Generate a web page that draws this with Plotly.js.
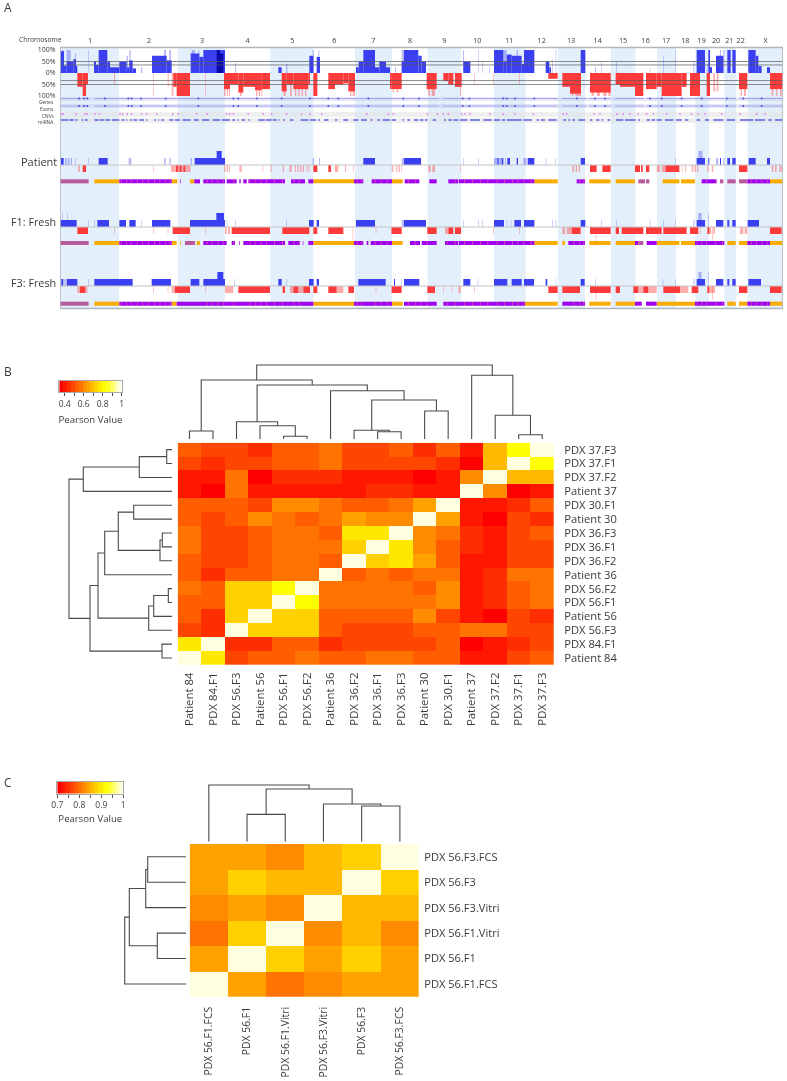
<!DOCTYPE html>
<html>
<head>
<meta charset="utf-8">
<script src="https://cdn.plot.ly/plotly-3.0.1.min.js"></script>
<style>html,body{margin:0;padding:0;background:#fff}#chart{filter:blur(0.3px)}</style>
</head>
<body>
<div id="chart" style="width:787px;height:1081px"></div>
<script>
// ---------- Panel A: genome positions (arbitrary units along the concatenated genome) ----------
const chromLabels = ['1','2','3','4','5','6','7','8','9','10','11','12','13','14','15','16','17','18','19','20','21','22','X'];
const chromCentres = [270,447,606,743,877,1003,1120,1230,1333,1432,1528,1625,1713,1793,1869,1937,1998,2056,2105,2148,2188,2222,2297];
const chromEdges = [180,357,533,675,811,940,1065,1176,1283,1383,1482,1577,1674,1755,1833,1906,1971,2028,2086,2127,2173,2208,2243,2349];
const R = a => a.map(([s, e, l]) => [s + 1170, e + 1170, l]);

const cohortGain = [[181,192,95],[192,200,32],[200,220,50],[220,228,60],[228,232,30],[282,288,50],[288,296,35],[296,322,100],[322,330,50],[330,358,25],[358,380,50],[380,388,25],[388,398,55],[398,408,20],[456,500,75],[500,515,55],[572,598,85],[598,610,70],[610,648,100],[648,675,100],[835,845,25],[928,940,75],[950,960,70],[1068,1076,25],[1076,1090,50],[1090,1125,100],[1125,1138,25],[1138,1158,50],[1158,1170,25]]
  .concat(R([[35,42,50],[42,85,100],[85,95,75],[95,108,50],[220,241,50],[312,340,100],[340,350,50],[350,365,80],[365,395,75],[395,402,40],[402,433,100],[467,478,50],[478,483,25],[572,586,100],[920,945,100],[955,960,100],[958,966,25],[978,1000,75],[1012,1022,100],[1027,1037,100],[1075,1097,100],[1097,1105,75],[1105,1115,30],[1131,1140,25]]));
const cohortGainFaint = [[186,190,100],[200,212,100],[225,228,85],[265,267,100],[380,384,75],[388,392,100],[423,427,25],[492,498,100],[508,513,100],[575,585,100],[595,598,100],[705,708,45],[858,862,40],[938,942,100],[955,958,100]]
  .concat(R([[15,18,25],[35,42,100],[219,222,100],[265,267,100],[277,279,50],[298,300,25],[340,350,100],[380,384,100],[487,489,60],[497,499,100],[615,618,25],[633,635,50],[678,680,50],[779,781,20],[820,822,75],[855,857,100],[910,913,50],[950,953,40],[990,993,100],[1000,1003,100]]));
const cohortGainDark = [[650,660,100],[660,670,85]];
const cohortLoss = [[232,248,60],[248,258,100],[258,264,50],[520,530,60],[530,570,100],[672,690,70],[690,715,50],[715,730,85],[730,765,60],[765,785,75],[785,810,70],[845,860,80],[860,880,50],[880,925,70],[925,930,50],[940,952,100],[985,1005,70],[1005,1030,50],[1030,1045,45],[1045,1065,80],[1170,1175,70]]
  .concat(R([[5,35,70],[110,140,70],[160,175,35],[175,190,50],[195,215,60],[475,503,25],[517,540,60],[540,573,90],[600,662,85],[677,690,50],[690,735,60],[735,760,100],[768,800,70],[800,815,60],[815,875,100],[875,890,60],[900,930,100],[950,960,100],[1047,1072,70],[1140,1178,70]]));
const cohortLossFaint = [[342,345,50],[460,462,100],[503,506,60],[515,520,100],[615,617,100],[672,676,100],[680,684,100],[687,690,100],[720,725,100],[768,772,100],[776,780,100],[784,787,100],[850,857,100],[870,875,100],[885,889,100],[895,899,100],[905,909,100],[915,919,100],[1050,1054,100],[1058,1065,100],[1173,1176,50]]
  .concat(R([[8,12,85],[20,25,85],[115,120,100],[125,135,100],[210,213,100],[253,255,50],[310,312,50],[388,390,50],[545,550,100],[556,573,100],[605,612,100],[620,630,100],[640,650,100],[655,662,100],[970,975,80],[980,985,80],[1052,1056,100],[1062,1068,100],[1145,1150,100],[1158,1162,100],[1170,1175,100]]));
const cohortLevels = [50,35,-33,-50];
const cohortTickVals = [100,50,0,-50,-100];
const cohortTickText = ['100%','50%','0%','50%','100%'];

const featureSpans = [[180,268],[282,1317],[1328,1673],[1686,1760],[1767,1833],[1845,1932],[1938,2173],[2178,2208],[2217,2348]];
const featureMarks = [237,252,262,315,385,395,423,497,595,700,715,770,845,930,985,1015,1105,1210,1257,1388,1408,1510,1520,1545,1603,1730,1785,1815,1950,1985,2045,2105,2180,2230,2285];
const cnvMarks = [185,190,228,255,262,285,298,360,368,382,395,425,440,470,518,535,590,622,680,690,700,745,790,815,860,905,930,965,1100,1165,1180,1282,1312,1330,1345,1385,1395,1410,1470,1510,1545,1600,1690,1700,1782,1800,1850,1870,1890,1915,1940,1960,2000,2040,2075,2095,2115,2165,2220,2270,2295];
const mirnaSpans = [[183,205],[208,222],[226,232],[245,250],[255,263],[283,296],[299,312],[315,330],[335,358],[365,373],[378,382],[390,396],[400,412],[418,432],[438,442],[463,468],[475,478],[484,492],[508,520],[525,540],[548,572],[582,596],[606,628],[638,660],[665,690],[697,705],[712,716],[725,735],[745,749],[775,795],[798,815],[818,830],[835,838],[850,855],[870,880],[902,925],[930,948],[955,960],[972,985],[1005,1012],[1030,1045],[1060,1075],[1083,1100],[1112,1117],[1133,1140],[1148,1170]]
  .concat(R([[5,18],[38,42],[52,60],[72,85],[90,100],[105,112],[128,138],[162,168],[175,185],[190,205],[210,232],[240,270],[280,305],[312,330],[335,345],[350,395],[400,425],[440,447],[453,465],[475,500],[520,528],[535,540],[547,555],[565,585],[600,607],[618,628],[635,640],[653,660],[678,700],[705,737],[745,750],[770,780],[785,795],[800,815],[825,850],[858,875],[885,895],[920,930],[945,957],[970,1000],[1010,1035],[1050,1090],[1095,1125],[1135,1145],[1155,1178]]));

// Patient
const patientGain = [[183,191],[296,323],[584,675],[650,665,2],[1090,1125]]
  .concat(R([[42,93],[322,326],[335,340],[352,360],[380,384],[413,433],[572,585],[920,945],[955,958],[990,993],[1012,1020],[1027,1037],[1076,1097],[1131,1140]]));
const patientGainFaint = [[195,200],[203,208],[212,216],[226,228],[265,267],[386,394],[492,497],[508,512],[572,576],[938,942],[957,960]]
  .concat(R([[35,42],[220,222],[265,267],[312,322],[326,335],[345,348],[400,410],[467,469],[495,497],[855,857],[925,938,2],[978,985],[1000,1003]]));
const patientLoss = [[248,258],[528,534],[538,545],[550,556],[940,952],[985,993]]
  .concat(R([[600,620],[637,662],[735,750],[753,758],[768,778],[826,868],[1047,1072]]));
const patientLossFaint = [[235,240],[460,462],[513,528],[534,538],[545,550],[556,572],[672,676],[680,684],[687,690],[718,725],[788,790],[812,815],[848,852],[868,875],[885,888],[892,896],[900,904],[908,912],[918,920],[925,928],[1005,1015],[1035,1038],[1060,1062],[1175,1180],[1188,1192],[1196,1200]]
  .concat(R([[33,35],[115,122],[127,135],[211,213],[547,552],[557,561],[566,570],[800,810],[815,825],[875,877],[885,888],[905,910],[914,918],[921,925],[952,956],[965,970],[1145,1150],[1155,1160],[1168,1175]]));
const patientLohOrange = [[283,358],[515,532],[570,583],[940,1062],[1176,1208]]
  .concat(R([[433,503],[598,662],[677,735],[818,868],[873,915],[1140,1178]]));
const patientLohPurple = [[358,515],[540,542],[583,600],[610,675],[680,710],[718,722],[730,740],[745,855],[873,915],[925,940],[1062,1090],[1115,1176]]
  .concat(R([[44,88],[118,140],[175,205],[207,433],[560,585],[935,980],[1072,1140]]));
const patientLohMixed = [[180,266]]
  .concat(R([[745,765],[768,778],[990,1000],[1012,1037],[1047,1072]]));

// F1: Fresh
const f1Gain = [[181,230],[292,327],[358,378],[388,407],[456,511],[570,675],[649,672,2],[927,941],[950,957],[1068,1125]]
  .concat(R([[42,108],[312,342],[373,393],[402,433],[572,586],[920,945],[978,1000],[1012,1018],[1027,1037],[1073,1107]]));
const f1GainFaint = [[186,188,2],[201,203,2],[265,267],[282,284],[423,425],[680,682],[706,708],[858,860]]
  .concat(R([[35,42],[220,222],[265,267],[277,279],[350,352],[362,364],[487,489],[497,499],[633,635],[678,680],[779,781],[820,822],[855,857],[910,913],[925,935,2],[955,957,2]]));
const f1Loss = [[232,264],[518,570],[695,810],[847,928],[940,952],[985,1030],[1175,1200]]
  .concat(R([[5,35],[112,140],[175,190],[195,213],[545,572],[600,662],[677,687],[695,760],[768,815],[820,890],[900,925],[952,958],[1140,1175]]));
const f1LossFaint = [[342,344],[460,462],[503,505],[615,617],[675,680],[684,690],[1058,1060,2],[1127,1129]]
  .concat(R([[165,175],[310,312],[388,390],[517,525],[530,545],[617,619,2],[930,932],[958,964],[970,975],[967,969,2],[1050,1060],[1064,1072]]));
const f1LohOrange = [[283,358],[515,530],[540,542],[590,600],[940,1062],[1176,1208]]
  .concat(R([[433,503],[517,525],[598,662],[677,735],[800,868],[873,915],[1012,1037],[1047,1072],[1140,1178]]));
const f1LohPurple = [[358,515],[610,680],[695,705],[718,720],[730,855],[865,900],[908,910],[925,940],[1062,1090],[1100,1105],[1112,1176]]
  .concat(R([[60,90],[95,140],[165,205],[207,433],[535,585],[735,745],[770,800],[915,1003],[1072,1140]]));
const f1LohMixed = [[180,266],[555,585]].concat(R([[745,760]]));

// F3: Fresh
const f3Gain = [[184,190],[200,232],[283,398],[455,513],[572,598],[610,675],[652,670,2],[835,845],[927,941],[950,957],[1075,1157]]
  .concat(R([[12,15],[42,88],[220,241],[312,352],[365,395],[402,432],[467,472],[572,584],[920,945],[978,1000],[1012,1018],[1027,1037],[1075,1113]]));
const f3GainFaint = [[193,197],[265,267],[703,705],[858,860]]
  .concat(R([[33,35],[263,265],[497,499],[615,617],[818,820],[855,857],[910,913],[925,935,2],[955,957,2]]));
const f3Loss = [[240,256],[525,570],[715,810],[848,855],[880,895],[910,930],[940,952],[985,1010],[1045,1062],[1175,1200]]
  .concat(R([[20,35],[112,135],[475,503],[517,570],[600,662],[677,690],[730,745],[760,775],[820,870],[905,925],[952,958],[1047,1072],[1140,1175]]));
const f3LossFaint = [[232,240],[256,262],[460,462],[503,505],[515,525],[615,617],[675,700],[870,880],[895,910],[1010,1030],[1127,1129]]
  .concat(R([[5,7],[160,162],[185,187],[205,212],[253,255],[617,619,2],[745,760],[775,800],[870,895],[958,975],[967,969,2]]));
const f3LohOrange = [[283,358],[515,530],[940,1062],[1176,1208]]
  .concat(R([[405,503],[598,662],[677,735],[800,915],[1012,1037],[1047,1072],[1140,1178]]));
const f3LohPurple = [[358,515],[530,940],[1062,1176]]
  .concat(R([[42,140],[160,405],[517,585],[735,755],[768,800],[915,1003],[1072,1140]]));
const f3LohMixed = [[180,266]];
// short orange runs seen inside the purple stretches of the allele track
const lohFlecks = [186,196,208,222,236,250,362,378,392,410,426,444,462,478,496,508,620,634,652,668,700,748,764,782,798,822,846,880,896,1070,1084,1124,1142,1160,1224,1244,1262,1280,1340,1364,1392,1416,1440,1462,1490,1512,1536,1552,1570,1592,1720,1738,1750,2090,2104,2118,2146,2166,2252,2268,2284,2300];

// ---------- Panel B ----------
const rowsB = ['PDX 37.F3','PDX 37.F1','PDX 37.F2','Patient 37','PDX 30.F1','Patient 30','PDX 36.F3','PDX 36.F1','PDX 36.F2','Patient 36','PDX 56.F2','PDX 56.F1','Patient 56','PDX 56.F3','PDX 84.F1','Patient 84'];
const colsB = ['Patient 84','PDX 84.F1','PDX 56.F3','Patient 56','PDX 56.F1','PDX 56.F2','Patient 36','PDX 36.F2','PDX 36.F1','PDX 36.F3','Patient 30','PDX 30.F1','Patient 37','PDX 37.F2','PDX 37.F1','PDX 37.F3'];
const pearsonB = [
 [.53,.49,.49,.45,.53,.53,.57,.49,.49,.53,.45,.53,.41,.69,.82,1],
 [.49,.45,.49,.49,.53,.53,.57,.49,.49,.49,.49,.45,.36,.69,1,.82],
 [.41,.41,.57,.36,.45,.45,.45,.41,.41,.41,.36,.41,.61,1,.69,.69],
 [.41,.36,.57,.41,.41,.41,.41,.41,.45,.45,.41,.41,1,.61,.36,.41],
 [.53,.53,.53,.49,.61,.61,.57,.53,.53,.57,.65,1,.41,.41,.45,.53],
 [.53,.49,.53,.61,.57,.53,.57,.65,.61,.61,1,.65,.41,.38,.49,.45],
 [.57,.49,.49,.53,.57,.57,.53,.77,.77,1,.61,.57,.45,.41,.49,.53],
 [.57,.49,.49,.53,.57,.57,.57,.73,1,.77,.61,.53,.45,.41,.49,.49],
 [.53,.49,.49,.53,.57,.57,.53,1,.73,.77,.65,.53,.41,.41,.49,.49],
 [.53,.45,.53,.53,.57,.57,1,.53,.57,.53,.57,.57,.41,.45,.57,.57],
 [.57,.53,.73,.73,.82,1,.57,.57,.57,.57,.53,.61,.41,.45,.53,.57],
 [.53,.53,.73,.73,1,.82,.57,.57,.57,.57,.57,.61,.41,.45,.53,.57],
 [.53,.45,.73,1,.73,.73,.53,.53,.53,.53,.61,.49,.41,.36,.49,.45],
 [.49,.45,1,.73,.73,.73,.53,.49,.49,.49,.53,.53,.57,.57,.49,.49],
 [.77,1,.45,.45,.53,.53,.45,.49,.49,.49,.49,.53,.36,.41,.45,.49],
 [1,.77,.49,.53,.53,.57,.53,.53,.57,.57,.53,.53,.41,.41,.49,.53]
];
// dendrograms: leaf = index, node = [height, childA, childB]
const treeTopB = [74,
  [59,[8,0,1],[54,[17.3,2,[13.3,3,[2.7,4,5]]],[48.3,6,[39,[8.7,7,[7.3,8,9]],[28,10,11]]]]],
  [63.7,12,[23.7,13,[4.3,14,15]]]];
const treeLeftB = [103,
  [88.7,[32.7,[5.3,0,1],2],3],
  [82,[74,[67.3,[53.7,[38.3,4,5],[12,[9.7,6,7],8]],9],[23.3,[18.3,[3.7,10,11],12],13]],[10,14,15]]];
const keyB = [.364,.405,.446,.487,.528,.569,.610,.651,.692,.733,.774,.815,.856,.897,.938,.979];

// ---------- Panel C ----------
const rowsC = ['PDX 56.F3.FCS','PDX 56.F3','PDX 56.F3.Vitri','PDX 56.F1.Vitri','PDX 56.F1','PDX 56.F1.FCS'];
const colsC = ['PDX 56.F1.FCS','PDX 56.F1','PDX 56.F1.Vitri','PDX 56.F3.Vitri','PDX 56.F3','PDX 56.F3.FCS'];
const pearsonC = [
 [.84,.84,.82,.86,.88,1],
 [.84,.88,.86,.86,1,.88],
 [.82,.84,.82,1,.86,.86],
 [.80,.88,1,.82,.86,.82],
 [.84,1,.88,.84,.88,.84],
 [1,.84,.80,.82,.84,.84]
];
const treeTopC = [56.7,0,[52.7,[27.3,1,2],[37.7,3,[35.7,4,5]]]];
const treeLeftC = [61.3,[56.7,[40.3,[38.3,0,1],2],[28.7,3,4]],5];
const keyC = [.709,.728,.747,.766,.784,.803,.822,.841,.859,.878,.897,.916,.934,.953,.972,.991];

const heatColors = ['#FF0000','#FF1700','#FF2E00','#FF4600','#FF5D00','#FF7400','#FF8B00','#FFA200','#FFB900','#FFD100','#FFE800','#FFFF00','#FFFF20','#FFFF60','#FFFF9F','#FFFFDF'];

// ---------- helpers ----------
const W = 787, H = 1081;
const dx = (a, b) => [a / W, b / W];
const dy = (top, bot) => [1 - bot / H, 1 - top / H];
const stepScale = heatColors.flatMap((c, i) => [[i / 16, c], [(i + 1) / 16, c]]);
const FONT = 'Open Sans, Liberation Sans, sans-serif';
const TXT = '#3a3a3a';
const traces = [];

function bars(segs, yaxis, color, o) {
  o = o || {};
  const sign = o.sign || 1;
  traces.push({type: 'bar', xaxis: 'x', yaxis: yaxis, hoverinfo: 'skip', showlegend: false,
    x: segs.map(s => (s[0] + s[1]) / 2), width: segs.map(s => s[1] - s[0]),
    y: segs.map(s => o.h !== undefined ? o.h : sign * (s[2] === undefined ? 1 : s[2])),
    base: o.base || 0, marker: {color: color, line: {width: 0}}});
}
function dendro(tree, orient, xa, ya) {
  const xs = [], ys = [];
  function walk(n) {
    if (typeof n === 'number') return {p: n, h: 0};
    const a = walk(n[1]), b = walk(n[2]);
    const poly = [[a.p, a.h], [a.p, n[0]], [b.p, n[0]], [b.p, b.h]];
    poly.forEach(q => { if (orient === 'top') { xs.push(q[0]); ys.push(q[1]); } else { xs.push(q[1]); ys.push(q[0]); } });
    xs.push(null); ys.push(null);
    return {p: (a.p + b.p) / 2, h: n[0]};
  }
  walk(tree);
  traces.push({type: 'scatter', mode: 'lines', x: xs, y: ys, xaxis: xa, yaxis: ya, hoverinfo: 'skip', showlegend: false,
    line: {color: '#4a4a4a', width: 1.1}});
}
function heat(xs, ys, z, zmin, zmax, xa, ya) {
  traces.push({type: 'heatmap', x: xs, y: ys, z: z, zmin: zmin, zmax: zmax, colorscale: stepScale, showscale: false, xaxis: xa, yaxis: ya, hoverinfo: 'skip'});
}

// ---------- Panel A traces ----------
const BLUE = '#3B3FF2', BLUEF = 'rgba(70,70,240,0.38)', RED = '#FF3A3A', REDF = 'rgba(255,60,60,0.42)';
bars(cohortLossFaint, 'y', REDF, {sign: -1});
bars(cohortLoss, 'y', RED, {sign: -1});
bars(cohortGainFaint, 'y', BLUEF);
bars(cohortGain, 'y', BLUE);
bars(cohortGainDark, 'y', '#0A0AA8');
traces.push({type: 'scatter', mode: 'lines', xaxis: 'x', yaxis: 'y', hoverinfo: 'skip', showlegend: false,
  x: cohortLevels.flatMap(() => [180, 2349, null]), y: cohortLevels.flatMap(v => [v, v, null]),
  line: {color: 'rgba(90,90,90,0.7)', width: 1}});

const rowGenes = 28, rowExons = 20.5, rowCnv = 12.5, rowMirna = 6.5;
[rowGenes, rowExons].forEach(r => {
  traces.push({type: 'scatter', mode: 'lines', xaxis: 'x', yaxis: 'y2', hoverinfo: 'skip', showlegend: false,
    x: featureSpans.flatMap(s => [s[0], s[1], null]), y: featureSpans.flatMap(() => [r, r, null]),
    line: {color: '#A8A8F2', width: 1}});
  traces.push({type: 'scatter', mode: 'markers', xaxis: 'x', yaxis: 'y2', hoverinfo: 'skip', showlegend: false,
    x: featureMarks, y: featureMarks.map(() => r),
    marker: {symbol: 'line-ns', size: 1.6, line: {color: '#5555e0', width: 1.6}}});
});
traces.push({type: 'scatter', mode: 'markers', xaxis: 'x', yaxis: 'y2', hoverinfo: 'skip', showlegend: false,
  x: cnvMarks, y: cnvMarks.map(() => rowCnv),
  marker: {symbol: 'line-ns', size: 1.6, line: {color: 'rgba(225,110,225,0.75)', width: 1.4}}});
traces.push({type: 'bar', xaxis: 'x', yaxis: 'y2', hoverinfo: 'skip', showlegend: false,
  x: mirnaSpans.map(s => (s[0] + s[1]) / 2), width: mirnaSpans.map(s => s[1] - s[0]),
  y: mirnaSpans.map(() => 2), base: rowMirna - 1, marker: {color: 'rgba(60,70,225,0.62)', line: {width: 0}}});

function sampleTrack(ya, d, lohBase) {
  bars(d.gf, ya, BLUEF);
  bars(d.g, ya, BLUE);
  bars(d.lf, ya, REDF, {sign: -1});
  bars(d.l, ya, RED, {sign: -1});
  bars(d.o, ya, '#F8AC00', {base: lohBase, h: 0.58});
  bars(d.p, ya, '#A000F0', {base: lohBase, h: 0.58});
  bars(d.m, ya, '#B85A9E', {base: lohBase, h: 0.58});
  const inPurple = p => d.p.some(s => p > s[0] && p + 3 < s[1]);
  bars(lohFlecks.filter(inPurple).map(p => [p, p + 3]), ya, 'rgba(235,120,150,0.55)', {base: lohBase, h: 0.58});
  traces.push({type: 'scatter', mode: 'lines', xaxis: 'x', yaxis: ya, hoverinfo: 'skip', showlegend: false,
    x: [180, 2349], y: [0, 0], line: {color: '#c4c4c4', width: 1}});
}
sampleTrack('y3', {g: patientGain, gf: patientGainFaint, l: patientLoss, lf: patientLossFaint, o: patientLohOrange, p: patientLohPurple, m: patientLohMixed}, -2.62);
sampleTrack('y4', {g: f1Gain, gf: f1GainFaint, l: f1Loss, lf: f1LossFaint, o: f1LohOrange, p: f1LohPurple, m: f1LohMixed}, -2.58);
sampleTrack('y5', {g: f3Gain, gf: f3GainFaint, l: f3Loss, lf: f3LossFaint, o: f3LohOrange, p: f3LohPurple, m: f3LohMixed}, -2.82);

// ---------- Panels B, C traces ----------
heat(colsB, rowsB, pearsonB, 0.344, 1, 'x2', 'y6');
dendro(treeTopB, 'top', 'x3', 'y7');
dendro(treeLeftB, 'left', 'x4', 'y8');
heat(keyB, ['k'], [keyB], 0.344, 1, 'x5', 'y9');
heat(colsC, rowsC, pearsonC, 0.7, 1, 'x6', 'y10');
dendro(treeTopC, 'top', 'x7', 'y11');
dendro(treeLeftC, 'left', 'x8', 'y12');
heat(keyC, ['k'], [keyC], 0.7, 1, 'x9', 'y13');

// ---------- shapes ----------
const shapes = [];
for (let i = 0; i < chromEdges.length - 1; i += 2) {
  shapes.push({type: 'rect', xref: 'x', yref: 'paper', x0: chromEdges[i], x1: chromEdges[i + 1], y0: 1 - 308.5 / H, y1: 1 - 47.5 / H,
    fillcolor: '#E3F0FC', line: {width: 0}, layer: 'below'});
}
[[97, 101, 'rgba(190,190,235,0.35)'], [104, 108, 'rgba(190,190,235,0.35)'], [112, 117, 'rgba(225,225,225,0.55)'], [118, 123, 'rgba(225,225,225,0.55)']].forEach(b => {
  shapes.push({type: 'rect', xref: 'x', yref: 'paper', x0: 180, x1: 2349, y0: 1 - b[1] / H, y1: 1 - b[0] / H, fillcolor: b[2], line: {width: 0}, layer: 'below'});
});
shapes.push({type: 'rect', xref: 'x', yref: 'paper', x0: 180, x1: 2349, y0: 1 - 308.5 / H, y1: 1 - 47.5 / H, line: {color: '#AEB6BE', width: 1.5}, layer: 'above'});

// ---------- annotations ----------
const ann = (text, px, py, size, anchor) => ({text, x: px / W, y: 1 - py / H, xref: 'paper', yref: 'paper', showarrow: false, xanchor: anchor || 'left', yanchor: 'middle', font: {family: FONT, size, color: TXT}});
const annotations = [
  ann('A', 2, 7, 12), ann('B', 2, 371, 12), ann('C', 2, 782, 12),
  ann('Chromosome', 16.5, 39, 6.7),
  ann('Patient', 59, 161, 11, 'right'), ann('F1: Fresh', 58, 221, 10.8, 'right'), ann('F3: Fresh', 58, 282, 10.8, 'right'),
  ann('Genes', 56, 102, 4.8, 'right'), ann('Exons', 56, 108.7, 4.8, 'right'), ann('CNVs', 56, 116, 4.8, 'right'), ann('miRNA', 56, 122, 4.8, 'right')
];

// ---------- axes ----------
const hidden = {visible: false, fixedrange: true};
const sampleY = (t, b, r) => Object.assign({}, hidden, {domain: dy(t, b), range: r, anchor: 'x'});
const keyX = (dom, rng, vals, text, anchorY, standoff) => ({domain: dom, range: rng, anchor: anchorY, side: 'bottom', tickmode: 'array', tickvals: vals, ticktext: text, ticks: 'outside', ticklen: 3, tickwidth: 1, tickcolor: '#555', tickangle: 0, tickfont: {family: FONT, size: 8.5, color: TXT}, showline: true, linecolor: '#aaa', mirror: true, showgrid: false, zeroline: false, fixedrange: true,
  title: {text: 'Pearson Value', font: {family: FONT, size: 9.6, color: TXT}, standoff: standoff}});
const keyY = (d, a) => ({domain: d, anchor: a, showticklabels: false, ticks: '', showline: true, linecolor: '#aaa', mirror: true, showgrid: false, zeroline: false, fixedrange: true});
const heatX = (dom, n, anchorY, len, size) => ({domain: dom, range: [-0.5, n - 0.5], anchor: anchorY, type: 'category', side: 'bottom', tickangle: -90, ticks: 'outside', ticklen: len, tickcolor: 'rgba(0,0,0,0)', showline: false, showgrid: false, zeroline: false, fixedrange: true, tickfont: {family: FONT, size: size, color: TXT}});
const heatY = (dom, n, anchorX, len, size) => ({domain: dom, range: [n - 0.5, -0.5], anchor: anchorX, type: 'category', side: 'right', ticks: 'outside', ticklen: len, tickcolor: 'rgba(0,0,0,0)', showline: false, showgrid: false, zeroline: false, fixedrange: true, tickfont: {family: FONT, size: size, color: TXT}});

const layout = {
  width: W, height: H, autosize: false, margin: {l: 0, r: 0, t: 0, b: 0, pad: 0},
  paper_bgcolor: '#fff', plot_bgcolor: 'rgba(0,0,0,0)', showlegend: false, barmode: 'overlay', font: {family: FONT, color: TXT},
  shapes, annotations,
  xaxis: {domain: dx(60, 783), range: [180, 2349], anchor: 'free', position: 1 - 44 / H, side: 'top', tickmode: 'array', tickvals: chromCentres, ticktext: chromLabels, tickangle: 0, ticks: '', showline: false, showgrid: false, zeroline: false, fixedrange: true, tickfont: {family: FONT, size: 7.2, color: TXT}},
  yaxis: {domain: dy(50, 96), range: [-100, 100], anchor: 'x', tickmode: 'array', tickvals: cohortTickVals, ticktext: cohortTickText, ticks: 'outside', ticklen: 2, tickcolor: 'rgba(0,0,0,0)', showgrid: false, zeroline: false, showline: false, fixedrange: true, tickfont: {family: FONT, size: 7, color: TXT}},
  yaxis2: Object.assign({}, hidden, {domain: dy(96.5, 126.5), range: [0, 30], anchor: 'x'}),
  yaxis3: sampleY(151, 184, [-2.71, 2]),
  yaxis4: sampleY(212, 245.5, [-2.64, 2.14]),
  yaxis5: sampleY(270, 306, [-2.86, 2.29]),
  xaxis2: heatX(dx(177.7, 554), 16, 'y6', 2, 11.4),
  yaxis6: heatY(dy(442.7, 665), 16, 'x2', 7, 11.2),
  xaxis3: Object.assign({}, hidden, {domain: dx(177.7, 554), range: [-0.5, 15.5], anchor: 'y7'}),
  yaxis7: Object.assign({}, hidden, {domain: dy(364, 439), range: [0, 75], anchor: 'x3'}),
  xaxis4: Object.assign({}, hidden, {domain: dx(68, 172), range: [104, 0], anchor: 'y8'}),
  yaxis8: Object.assign({}, hidden, {domain: dy(442.7, 665), range: [15.5, -0.5], anchor: 'x4'}),
  xaxis5: keyX(dx(59.3, 121.7), [0.344, 1], [.4,.5,.6,.7,.8,.9,1], ['0.4','','0.6','','0.8','','1'], 'y9', 8),
  yaxis9: keyY(dy(380.7, 392.3), 'x5'),
  xaxis6: heatX(dx(189.7, 419), 6, 'y10', 5, 10.4),
  yaxis10: heatY(dy(844, 996.7), 6, 'x6', 2, 11.1),
  xaxis7: Object.assign({}, hidden, {domain: dx(189.7, 419), range: [-0.5, 5.5], anchor: 'y11'}),
  yaxis11: Object.assign({}, hidden, {domain: dy(784, 841.7), range: [0, 57.7], anchor: 'x7'}),
  xaxis8: Object.assign({}, hidden, {domain: dx(124, 186), range: [62, 0], anchor: 'y12'}),
  yaxis12: Object.assign({}, hidden, {domain: dy(844, 996.7), range: [5.5, -0.5], anchor: 'x8'}),
  xaxis9: keyX(dx(57.3, 123.3), [0.7, 1], [.7,.75,.8,.85,.9,.95,1], ['0.7','','0.8','','0.9','','1'], 'y13', 6),
  yaxis13: keyY(dy(781.7, 793.7), 'x9')
};

Plotly.newPlot('chart', traces, layout, {displayModeBar: false, staticPlot: true});
</script>
</body>
</html>
